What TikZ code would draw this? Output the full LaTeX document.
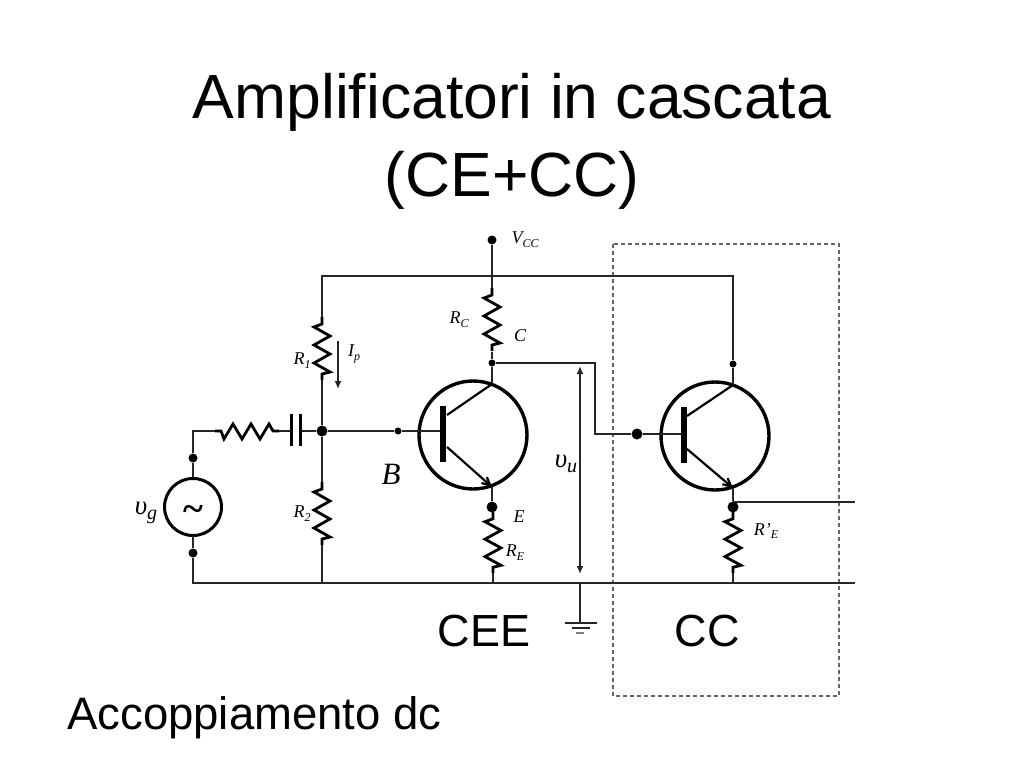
\documentclass[tikz,border=0pt]{standalone}
\usepackage{fontspec}
\setmainfont{Liberation Serif}
\newfontfamily\arialf{Liberation Sans}
\usetikzlibrary{arrows.meta}
\tikzset{
  wire/.style={line width=1.1pt,draw=black!85},
  reswire/.style={line width=2.8pt,draw=black,line join=miter},
  tcircle/.style={circle,draw=black,line width=3.4pt,minimum size=108pt,inner sep=0pt},
  srccircle/.style={circle,draw=black,line width=3pt,minimum size=57pt,inner sep=0pt},
  bigdot/.style={circle,fill=black,inner sep=0pt,minimum size=11pt},
  meddot/.style={circle,fill=black,inner sep=0pt,minimum size=9pt},
  smalldot/.style={circle,fill=black,inner sep=0pt,minimum size=7pt},
  titletext/.style={font=\arialf\fontsize{62.4}{62.4}\selectfont,inner sep=0pt,anchor=base},
  bodytext/.style={font=\arialf\fontsize{45}{45}\selectfont,inner sep=0pt,anchor=base},
  lab/.style={font=\itshape\fontsize{18}{18}\selectfont,inner sep=0pt},
  biglab/.style={font=\itshape\fontsize{31}{31}\selectfont,inner sep=0pt},
  tip/.style={-{Latex[length=8pt,width=7pt]}},
  tiptwo/.style={{Latex[length=8pt,width=7pt]}-{Latex[length=8pt,width=7pt]}},
  boxdash/.style={draw=black!60,line width=1.1pt,dash pattern=on 4pt off 3pt}
}
\newcommand{\resv}[2]{\draw[reswire] (#1) -- ++(0,{7*#2}) -- ++(-8,{3*#2}) -- ++(16,{9*#2}) -- ++(-16,{9*#2}) -- ++(16,{9*#2}) -- ++(-16,{9*#2}) -- ++(16,{9*#2}) -- ++(-8,{2*#2}) -- ++(0,{6*#2});}
\newcommand{\sub}[2]{#1\raisebox{-0.22em}{\fontsize{12}{12}\selectfont #2}}
\begin{document}
\begin{tikzpicture}[x=1pt,y=-1pt]
\useasboundingbox (0,0) rectangle (1024,768);
\fill[white] (0,0) rectangle (1024,768);

% titles
\node[titletext] (t1) at (512,118) {Amplificatori in cascata};
\node[titletext] (t2) at (512,196) {(CE+CC)};
\node[bodytext,font=\arialf\fontsize{45.5}{45.5}\selectfont,anchor=base west] (acc) at (67,729) {Accoppiamento dc};
\node[bodytext] (cee) at (484,646) {CEE};
\node[bodytext] (cc) at (707,646) {CC};

% dashed box
\draw[boxdash] (613,244) rectangle (839,696);

% coordinates
\coordinate (topL) at (322,276);
\coordinate (topR) at (733,276);
\coordinate (r1t) at (322,317);
\coordinate (r1b) at (322,380);
\coordinate (r2t) at (322,482);
\coordinate (r2b) at (322,545);
\coordinate (botL) at (193,583);
\coordinate (botM) at (322,583);
\coordinate (botE) at (493,583);
\coordinate (botG) at (580,583);
\coordinate (botE2) at (733,583);
\coordinate (botR) at (855,583);
\coordinate (outL) at (733,502);
\coordinate (outR) at (855,502);
\coordinate (rct) at (492,288);
\coordinate (rcb) at (492,352);
\coordinate (ret) at (493,512);
\coordinate (reb) at (493,573);
\coordinate (re2t) at (733,512);
\coordinate (re2b) at (733,573);
\coordinate (lc) at (193,431);
\coordinate (rgl) at (215,431);
\coordinate (rgr) at (279,431);
\coordinate (capL) at (291,431);
\coordinate (capR) at (300,431);
\coordinate (bar1) at (443,431);
\coordinate (bar2) at (684,434);
\coordinate (cn1) at (595,363);
\coordinate (cn2) at (595,434);
\coordinate (c1a) at (447,415);
\coordinate (c1b) at (492,384);
\coordinate (e1a) at (447,447);
\coordinate (e1b) at (492,487);
\coordinate (c2a) at (687,416);
\coordinate (c2b) at (733,385);
\coordinate (e2a) at (687,449);
\coordinate (e2b) at (733,488);
\coordinate (gnd) at (580,623);
\coordinate (vua) at (580,366);
\coordinate (vub) at (580,574);
\coordinate (ipa) at (338,341);
\coordinate (ipb) at (338,389);

% nodes
\node[srccircle] (src) at (193,507) {};
\node[font=\fontsize{38}{38}\bfseries\selectfont,inner sep=0pt] (tilde) at (193,513) {\symbol{126}};
\node[tcircle] (q1) at (473,435) {};
\node[tcircle] (q2) at (715,436) {};
\node[meddot] (dg1) at (193,458) {};
\node[meddot] (dg2) at (193,553) {};
\node[bigdot] (j) at (322,431) {};
\node[smalldot] (db) at (398,431) {};
\node[meddot] (dv) at (492,240) {};
\node[smalldot] (dc) at (492,363) {};
\node[bigdot] (de) at (492,507) {};
\node[smalldot] (dc2) at (733,364) {};
\node[bigdot] (db2) at (637,434) {};
\node[bigdot] (de2) at (733,507) {};

% wires
\draw[wire] (r1t) -- (topL) -- (topR) -- (dc2);
\draw[wire] (r1b) -- (j) -- (r2t);
\draw[wire] (r2b) -- (botM);
\draw[wire] (dg1) -- (lc) -- (rgl);
\draw[wire] (dg1) -- (src);
\draw[wire] (src) -- (dg2) -- (botL) -- (botR);
\draw[wire] (j) -- (db) -- (bar1);
\draw[wire,line width=1.8pt] (capR) -- (j);
\draw[wire,line width=1.8pt] (rgr) -- (capL);
\draw[wire] (dv) -- (rct);
\draw[wire] (rcb) -- (dc) -- (c1b);
\draw[wire] (dc) -- (cn1) -- (cn2) -- (db2) -- (bar2);
\draw[wire] (dc2) -- (c2b);
\draw[wire] (e1b) -- (de);
\draw[wire] (de) -- (ret);
\draw[wire] (reb) -- (botE);
\draw[wire] (e2b) -- (de2) -- (re2t);
\draw[wire] (re2b) -- (botE2);
\draw[wire] (outL) -- (outR);
\draw[wire] (botG) -- (gnd);
\draw[wire] (565,623) -- (597,623);
\draw[wire] (572,628) -- (590,628);
\draw[wire,black!50] (576,633) -- (584,633);

% resistors
\resv{r1t}{1}
\resv{r2t}{1}
\resv{rct}{1}
\resv{ret}{0.97}
\resv{re2t}{0.97}
\draw[reswire] (rgl) -- ++(6,0) -- ++(3,8) -- ++(9,-15) -- ++(9,15) -- ++(9,-15) -- ++(9,15) -- ++(9,-15) -- ++(4,7) -- ++(6,0) ;

% capacitor
\draw[line width=3pt] (291,414) -- (291,446);
\draw[line width=3pt] (300,414) -- (300,446);

% transistors
\fill (440,406) rectangle (446,462);
\fill (681,407) rectangle (687,463);
\draw[line width=2.2pt] (c1a) -- (c1b);
\draw[line width=2.2pt] (c2a) -- (c2b);
\draw[line width=2.2pt,-{Straight Barb[length=8pt,width=8pt]}] (e1a) -- (e1b);
\draw[line width=2.2pt,-{Straight Barb[length=8pt,width=8pt]}] (e2a) -- (e2b);

% arrows
\draw[wire,line width=1.5pt,tip] (ipa) -- (ipb);
\draw[wire,line width=1.6pt,tiptwo] (vua) -- (vub);

% labels
\node[lab] (lvcc) at (525,240) {\sub{V}{CC}};
\node[lab] (lrc) at (459,320) {\sub{R}{C}};
\node[lab] (lc2) at (520,336) {C};
\node[lab] (le) at (519,517) {E};
\node[lab] (lre) at (515,553) {\sub{R}{E}};
\node[lab] (lr1) at (302,361) {\sub{R}{1}};
\node[lab] (lr2) at (302,514) {\sub{R}{2}};
\node[lab] (lip) at (354,354) {\sub{I}{p}};
\node[lab] (lre2) at (766,531) {\sub{R'}{E}};
\node[biglab] (lb) at (391,474) {B};
\node[font=\itshape\fontsize{27}{27}\selectfont,inner sep=0pt] (lvg) at (146,513) {υ\raisebox{-0.2em}{\fontsize{20}{20}\selectfont g}};
\node[font=\itshape\fontsize{27}{27}\selectfont,inner sep=0pt] (lvu) at (566,464) {υ\raisebox{-0.2em}{\fontsize{20}{20}\selectfont u}};
\end{tikzpicture}
\end{document}
